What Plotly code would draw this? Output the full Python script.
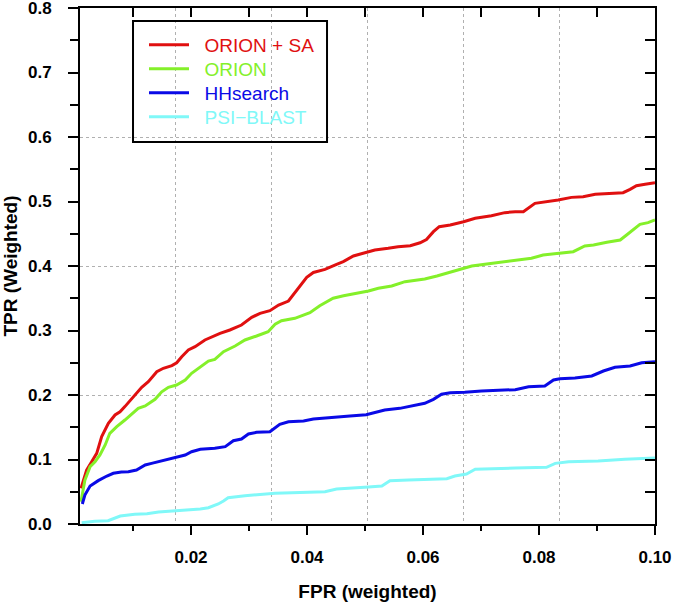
import plotly.graph_objects as go

# ---------------- data ----------------
SERIES_NAMES = ["ORION + SA", "ORION", "HHsearch", "PSI\u2212BLAST"]
SERIES_COLORS = ["#e01010", "#84f02a", "#0a0ae6", "#80f8f8"]

ORION_SA_X = [0.00103, 0.0020, 0.00287, 0.00374, 0.0046, 0.00575, 0.0069, 0.00776, 0.0086, 0.01006,
              0.0115, 0.01264, 0.0141, 0.01523, 0.0167, 0.01753, 0.0184, 0.01954, 0.0207, 0.0224,
              0.0241, 0.0250, 0.0267, 0.0287, 0.03047, 0.0319, 0.0336, 0.0351, 0.0368, 0.0385,
              0.03995, 0.0411, 0.0431, 0.0451, 0.04626, 0.0480, 0.0500, 0.0517, 0.0540, 0.0557,
              0.0578, 0.0595, 0.0606, 0.0618, 0.0628, 0.0647, 0.0670, 0.0690, 0.0718, 0.0741,
              0.0759, 0.0773, 0.0793, 0.0813, 0.0833, 0.0856, 0.0876, 0.0897, 0.0922, 0.0945,
              0.0957, 0.0968, 0.0983, 0.1000]
ORION_SA_Y = [0.0553, 0.0837, 0.0966, 0.1096, 0.1354, 0.156, 0.169, 0.174, 0.182, 0.197,
              0.212, 0.2207, 0.236, 0.2414, 0.2455, 0.250, 0.2594, 0.2698, 0.275, 0.2853,
              0.292, 0.2956, 0.3008, 0.3085, 0.3204, 0.3266, 0.3307, 0.3395, 0.3457, 0.3654,
              0.3824, 0.390, 0.3948, 0.4026, 0.4067, 0.4155, 0.4207, 0.4248, 0.4274, 0.430,
              0.4315, 0.436, 0.441, 0.4532, 0.461, 0.4636, 0.4687, 0.474, 0.478, 0.4827,
              0.4842, 0.4842, 0.4972, 0.4997, 0.5023, 0.5064, 0.5075, 0.5111, 0.5127, 0.5137,
              0.5188, 0.5245, 0.5266, 0.5292]

ORION_X = [0.00103, 0.0017, 0.0026, 0.00345, 0.0043, 0.0052, 0.0060, 0.0072, 0.0086, 0.0098,
           0.0109, 0.0121, 0.0138, 0.01495, 0.0161, 0.0175, 0.0190, 0.0201, 0.0216, 0.0230,
           0.0241, 0.0256, 0.0276, 0.0293, 0.0313, 0.0333, 0.0345, 0.0356, 0.0379, 0.0405,
           0.0422, 0.0445, 0.0463, 0.0486, 0.0506, 0.0523, 0.0546, 0.0569, 0.0603, 0.0624,
           0.0641, 0.0658, 0.0684, 0.0710, 0.0741, 0.0767, 0.0787, 0.0807, 0.0836, 0.0859,
           0.0879, 0.0894, 0.0917, 0.0940, 0.0951, 0.0963, 0.0974, 0.0988, 0.1000]
ORION_Y = [0.0346, 0.068, 0.0889, 0.0966, 0.107, 0.1225, 0.1406, 0.1509, 0.1612, 0.170,
           0.1793, 0.183, 0.1933, 0.205, 0.212, 0.2155, 0.2233, 0.2336, 0.244, 0.2527,
           0.2553, 0.2672, 0.276, 0.2853, 0.2915, 0.2982, 0.3096, 0.3152, 0.3189, 0.3276,
           0.3385, 0.350, 0.354, 0.3576, 0.3612, 0.3654, 0.369, 0.3757, 0.3798, 0.3845,
           0.3886, 0.3938, 0.400, 0.403, 0.4062, 0.4093, 0.412, 0.417, 0.4197, 0.4222,
           0.431, 0.4326, 0.4367, 0.4403, 0.448, 0.4574, 0.4646, 0.4672, 0.4713]

HHSEARCH_X = [0.00126, 0.0017, 0.0026, 0.0040, 0.0055, 0.0066, 0.0080, 0.0092, 0.0106, 0.0121,
              0.0132, 0.0149, 0.0164, 0.0175, 0.0190, 0.0201, 0.0216, 0.0241, 0.0259, 0.0273,
              0.0287, 0.0299, 0.0313, 0.0336, 0.0353, 0.0368, 0.0394, 0.0411, 0.0440, 0.0474,
              0.0502, 0.0517, 0.0534, 0.0560, 0.0578, 0.0603, 0.0618, 0.0632, 0.0647, 0.0672,
              0.0701, 0.0730, 0.0759, 0.0782, 0.0810, 0.0825, 0.0836, 0.0862, 0.0891, 0.0911,
              0.0931, 0.0957, 0.0977, 0.1000]
HHSEARCH_Y = [0.031, 0.045, 0.0589, 0.0672, 0.0744, 0.0786, 0.0806, 0.0811, 0.0837, 0.0915,
              0.094, 0.0977, 0.1018, 0.1044, 0.107, 0.112, 0.1158, 0.1173, 0.1199, 0.1292,
              0.1318, 0.1395, 0.1421, 0.1431, 0.1545, 0.1586, 0.1597, 0.1628, 0.1654, 0.1674,
              0.1695, 0.1731, 0.1767, 0.1793, 0.183, 0.1871, 0.1933, 0.2011, 0.2036, 0.2041,
              0.2062, 0.2067, 0.2083, 0.2129, 0.214, 0.2233, 0.2253, 0.2264, 0.2295, 0.2372,
              0.2429, 0.245, 0.2501, 0.2517]

PSIBLAST_X = [0.00115, 0.0034, 0.0057, 0.0078, 0.0103, 0.0124, 0.0144, 0.0172, 0.0193, 0.0216,
              0.0230, 0.0247, 0.0256, 0.0264, 0.0293, 0.0316, 0.0345, 0.0374, 0.0402, 0.0431,
              0.0451, 0.0477, 0.0506, 0.0529, 0.0543, 0.0575, 0.0609, 0.0641, 0.0655, 0.0675,
              0.0690, 0.0718, 0.0759, 0.0813, 0.0828, 0.0851, 0.0902, 0.0948, 0.1000]
PSIBLAST_Y = [0.002, 0.0042, 0.0052, 0.0124, 0.015, 0.016, 0.0186, 0.0201, 0.0217, 0.0233,
              0.0253, 0.031, 0.0357, 0.0408, 0.0439, 0.046, 0.0476, 0.0486, 0.0491, 0.0501,
              0.0543, 0.0563, 0.0574, 0.0589, 0.0672, 0.0682, 0.0693, 0.0703, 0.0744, 0.0775,
              0.0848, 0.0858, 0.0868, 0.0879, 0.094, 0.0966, 0.0977, 0.1003, 0.1023]

X_RANGE = [0.00086, 0.10]
Y_RANGE = [0.0, 0.8]
X_TICKS = [0.02, 0.04, 0.06, 0.08, 0.10]
X_TICK_LABELS = ["0.02", "0.04", "0.06", "0.08", "0.10"]
X_MINOR_TICKS = [0.01, 0.03, 0.05, 0.07, 0.09]
Y_TICKS = [0.0, 0.1, 0.2, 0.3, 0.4, 0.5, 0.6, 0.7, 0.8]
Y_TICK_LABELS = ["0.0", "0.1", "0.2", "0.3", "0.4", "0.5", "0.6", "0.7", "0.8"]
X_GRID = [X_RANGE[0] + k * (X_RANGE[1] - X_RANGE[0]) / 6 for k in range(1, 6)]
Y_GRID = [0.2, 0.4, 0.6]

X_TITLE = "FPR (weighted)"
Y_TITLE = "TPR (Weighted)"

# ---------------- figure ----------------
FONT = "Liberation Sans, Arial, sans-serif"
fig = go.Figure()

# legend entry layout (paper coordinates)
LEGEND_X = 0.1113
LEGEND_Y = [0.9283, 0.8818, 0.8353, 0.7888]
LEGEND_IDS = ["legend", "legend2", "legend3", "legend4"]

series = [(ORION_SA_X, ORION_SA_Y), (ORION_X, ORION_Y), (HHSEARCH_X, HHSEARCH_Y), (PSIBLAST_X, PSIBLAST_Y)]
for (xs, ys), name, color, lid in zip(series, SERIES_NAMES, SERIES_COLORS, LEGEND_IDS):
    fig.add_trace(go.Scatter(
        x=xs, y=ys, mode="lines",
        name=f"&nbsp;&nbsp;<span style='color:{color}'>{name}</span>",
        line=dict(color=color, width=3),
        legend=lid,
    ))

# empty helper traces so the overlay axes are drawn
fig.add_trace(go.Scatter(x=[], y=[], xaxis="x2", yaxis="y2", showlegend=False))
fig.add_trace(go.Scatter(x=[], y=[], xaxis="x3", yaxis="y3", showlegend=False))

tickfont = dict(family=FONT, size=17, color="black", weight="bold")

legend_layout = {}
for lid, ly in zip(LEGEND_IDS, LEGEND_Y):
    legend_layout[lid] = dict(
        x=LEGEND_X, y=ly, xanchor="left", yanchor="middle",
        bgcolor="rgba(0,0,0,0)", borderwidth=0,
        font=dict(family=FONT, size=19),
        itemwidth=40,
    )

fig.update_layout(
    width=675, height=607,
    margin=dict(l=80, r=20, t=8, b=83, autoexpand=False),
    paper_bgcolor="white", plot_bgcolor="white",
    font=dict(family=FONT, color="black"),
    showlegend=True,
    **legend_layout,
    shapes=[dict(type="rect", xref="paper", yref="paper",
                 x0=0.0922, x1=0.4296, y0=0.7403, y1=0.9748,
                 line=dict(color="black", width=2), fillcolor="rgba(0,0,0,0)")],
    xaxis=dict(
        range=X_RANGE, tickmode="array", tickvals=X_TICKS, ticktext=X_TICK_LABELS,
        ticks="outside", ticklen=9, tickwidth=2, tickcolor="black",
        minor=dict(tickmode="array", tickvals=X_MINOR_TICKS, ticks="outside", ticklen=5,
                   tickwidth=2, tickcolor="black", showgrid=False),
        showline=True, linewidth=2, linecolor="black", showgrid=False, zeroline=False,
        tickfont=tickfont, ticklabelstandoff=8, automargin=False, ticklabeloverflow="allow",
        title=dict(text=X_TITLE, font=dict(family=FONT, size=19, weight="bold"), standoff=18),
    ),
    yaxis=dict(
        range=Y_RANGE, tickmode="array", tickvals=Y_TICKS, ticktext=Y_TICK_LABELS,
        ticks="outside", ticklen=10, tickwidth=2, tickcolor="black",
        minor=dict(dtick=0.05, tick0=0, ticks="outside", ticklen=8, tickwidth=2,
                   tickcolor="black", showgrid=False),
        showline=True, linewidth=2, linecolor="black", showgrid=False, zeroline=False,
        tickfont=tickfont, ticklabelstandoff=13, automargin=False, ticklabeloverflow="allow",
        title=dict(text=Y_TITLE, font=dict(family=FONT, size=19, weight="bold"), standoff=9),
    ),
    xaxis2=dict(
        overlaying="x", side="top", anchor="y2", range=X_RANGE,
        tickmode="array", tickvals=X_TICKS, ticks="inside", ticklen=9, tickwidth=2,
        tickcolor="black", showticklabels=False, automargin=False,
        minor=dict(tickmode="array", tickvals=X_MINOR_TICKS, ticks="inside", ticklen=9,
                   tickwidth=2, tickcolor="black", showgrid=False),
        showline=True, linewidth=2, linecolor="black", showgrid=False, zeroline=False,
    ),
    yaxis2=dict(
        overlaying="y", side="right", anchor="x2", range=Y_RANGE,
        tickmode="array", tickvals=Y_TICKS, ticks="inside", ticklen=10, tickwidth=2,
        tickcolor="black", showticklabels=False, automargin=False,
        minor=dict(dtick=0.05, tick0=0, ticks="inside", ticklen=10, tickwidth=2,
                   tickcolor="black", showgrid=False),
        showline=True, linewidth=2, linecolor="black", showgrid=False, zeroline=False,
    ),
    xaxis3=dict(
        overlaying="x", anchor="y3", range=X_RANGE, tickmode="array", tickvals=X_GRID,
        ticks="", showticklabels=False, showline=False, zeroline=False, automargin=False,
        showgrid=True, gridcolor="#b0b0b0", gridwidth=1, griddash="dot",
    ),
    yaxis3=dict(
        overlaying="y", anchor="x3", range=Y_RANGE, tickmode="array", tickvals=Y_GRID,
        ticks="", showticklabels=False, showline=False, zeroline=False, automargin=False,
        showgrid=True, gridcolor="#b0b0b0", gridwidth=1, griddash="dot",
    ),
)

fig.write_html("out.html", config={"displayModeBar": False},
               post_script="document.body.style.margin='0px';")
